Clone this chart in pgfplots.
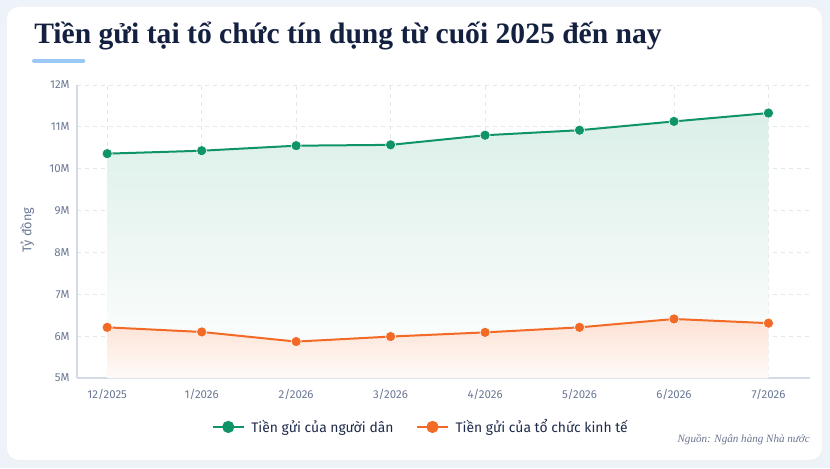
\documentclass[border=0pt]{standalone}
\usepackage{fontspec}
\setmainfont{Fira Sans}
\newfontfamily\titlefont{Liberation Serif}
\usepackage{pgfplots}
\pgfplotsset{compat=1.18}

\definecolor{pagebg}{HTML}{EEF2F9}
\definecolor{titlec}{HTML}{14203F}
\definecolor{accent}{HTML}{9CC8F5}
\definecolor{tickc}{HTML}{6B7894}
\definecolor{gridc}{HTML}{E1E6EF}
\definecolor{axisc}{HTML}{D3DAE6}
\definecolor{dan}{HTML}{0F9468}
\definecolor{tctk}{HTML}{F26A25}
\definecolor{legc}{HTML}{1E2A4A}
\definecolor{srcc}{HTML}{6A7590}

\begin{document}
\begin{tikzpicture}[x=1pt,y=1pt]
  % nen va the
  \fill[pagebg] (0,0) rectangle (622.5,351);
  \fill[black!6, rounded corners=9pt] (5.25,5) rectangle (617,345.5);
  \fill[white, rounded corners=9pt] (5.25,6) rectangle (616.5,345.75);

  % tieu de
  \node[anchor=base west, inner sep=0pt, text=titlec]
    at (25.5,318) {\titlefont\fontsize{22.2}{26}\selectfont\bfseries Tiền gửi tại tổ chức tín dụng từ cuối 2025 đến nay};
  \draw[accent, line width=3pt, line cap=round] (25.5,305.25) -- (62.5,305.25);

  \begin{axis}[
      at={(57.75pt,67.5pt)}, anchor=south west,
      scale only axis, width=549.75pt, height=219.75pt,
      xmin=-0.32, xmax=7.44, ymin=5, ymax=12,
      axis x line*=bottom, axis y line*=left,
      axis line style={axisc, line width=0.9pt},
      major tick length=0pt,
      xtick={0,...,7},
      xticklabels={12/2025,1/2026,2/2026,3/2026,4/2026,5/2026,6/2026,7/2026},
      ytick={5,...,12},
      yticklabel={\pgfmathtruncatemacro\v{\tick}\v M},
      tick label style={font=\fontsize{8.6}{10}\selectfont, text=tickc},
      xticklabel style={yshift=-5pt},
      yticklabel style={xshift=-2pt},
      grid=major,
      major grid style={gridc, dash pattern=on 3pt off 3pt, line width=0.6pt},
      ylabel={Tỷ đồng},
      ylabel style={at={(rel axis cs:-0.068,0.505)}, anchor=center,
        font=\fontsize{9.5}{11}\selectfont, text=tickc},
      legend columns=2,
      legend style={at={(rel axis cs:0.4695,-0.167)}, anchor=center,
        draw=none, fill=none, font=\fontsize{10.4}{12}\selectfont, text=legc,
        /tikz/every odd column/.append style={column sep=3pt},
        /tikz/every even column/.append style={column sep=15pt}},
      legend image code/.code={
        \draw[line width=1.5pt] (0pt,0pt) -- (23pt,0pt);
        \fill (11.5pt,0pt) circle (3.8pt);},
    ]
    % vung to mau duoi duong
    \addplot[shading=axis, top color=dan!15, middle color=dan!5, bottom color=white,
      draw=none, forget plot] coordinates {
      (0,5) (0,10.36) (1,10.43) (2,10.55) (3,10.57)
      (4,10.80) (5,10.92) (6,11.13) (7,11.33) (7,5)} -- cycle;
    \addplot[top color=tctk!20, bottom color=tctk!3, draw=none, forget plot] coordinates {
      (0,5) (0,6.21) (1,6.10) (2,5.87) (3,5.99)
      (4,6.09) (5,6.21) (6,6.41) (7,6.31) (7,5)} -- cycle;

    \addplot[dan, line width=1.5pt, mark=*, mark size=3.8pt,
      mark options={draw=white, line width=0.4pt, fill=dan}] coordinates {
      (0,10.36) (1,10.43) (2,10.55) (3,10.57)
      (4,10.80) (5,10.92) (6,11.13) (7,11.33)};
    \addlegendentry{Tiền gửi của người dân}

    \addplot[tctk, line width=1.5pt, mark=*, mark size=3.8pt,
      mark options={draw=white, line width=0.4pt, fill=tctk}] coordinates {
      (0,6.21) (1,6.10) (2,5.87) (3,5.99)
      (4,6.09) (5,6.21) (6,6.41) (7,6.31)};
    \addlegendentry{Tiền gửi của tổ chức kinh tế}
  \end{axis}

  % nguon
  \node[anchor=base east, inner sep=0pt, text=srcc]
    at (607.5,19.5) {\titlefont\itshape\fontsize{8.3}{9}\selectfont Nguồn: Ngân hàng Nhà nước};
\end{tikzpicture}
\end{document}
